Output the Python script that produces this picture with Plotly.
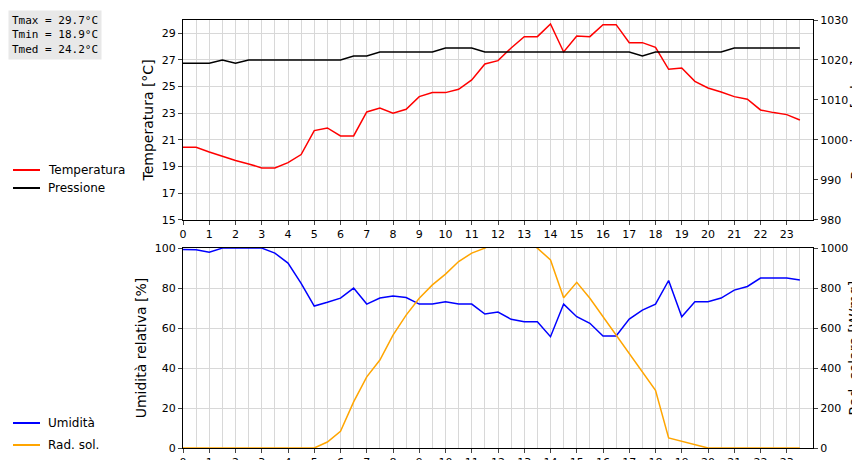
import plotly.graph_objects as go

hours = [i * 0.5 for i in range(48)]
temperatura = [20.45, 20.45, 20.1, 19.75, 19.45, 19.2, 18.9, 18.9, 19.3, 19.9, 21.7, 21.9,
               21.3, 21.3, 23.1, 23.4, 23.0, 23.3, 24.25, 24.55, 24.55, 24.8, 25.5, 26.7,
               26.95, 27.9, 28.75, 28.75, 29.7, 27.6, 28.8, 28.75, 29.65, 29.65, 28.3, 28.3,
               27.95, 26.3, 26.4, 25.4, 24.9, 24.6, 24.25, 24.05, 23.25, 23.05, 22.9, 22.5]
pressione = [1019.2, 1019.2, 1019.2, 1020, 1019.2, 1020, 1020, 1020, 1020, 1020, 1020, 1020,
             1020, 1021, 1021, 1022, 1022, 1022, 1022, 1022, 1023, 1023, 1023, 1022,
             1022, 1022, 1022, 1022, 1022, 1022, 1022, 1022, 1022, 1022, 1022, 1021,
             1022, 1022, 1022, 1022, 1022, 1022, 1023, 1023, 1023, 1023, 1023, 1023]
umidita = [99.3, 99.2, 98, 100, 100, 100, 100, 97.5, 92.5, 82.4, 71, 72.9,
           75, 80, 72, 75, 76, 75.3, 72, 72, 73.2, 72, 72, 67,
           68, 64.4, 63.2, 63.2, 55.7, 72, 65.7, 62.4, 56, 56, 64.5, 69,
           72, 83.8, 65.7, 73.2, 73.2, 75, 79, 80.8, 85, 85, 85, 84.1]
radsol = [0, 0, 0, 0, 0, 0, 0, 0, 0, 0, 0, 30,
          84, 231, 356, 440, 565, 665, 749, 816, 870, 933, 975, 1000,
          1040, 1060, 1040, 1000, 941, 752, 829, 749, 657, 565, 473, 381,
          289, 50, 33, 17, 0, 0, 0, 0, 0, 0, 0, 0]
xticks = list(range(24))
stats = "Tmax = 29.7°C<br>Tmin = 18.9°C<br>Tmed = 24.2°C"

fig = go.Figure()
fig.add_trace(go.Scatter(x=hours, y=temperatura, mode="lines", line=dict(color="#ff0000", width=1.5), xaxis="x", yaxis="y"))
fig.add_trace(go.Scatter(x=hours, y=pressione, mode="lines", line=dict(color="#000000", width=1.5), xaxis="x", yaxis="y2"))
fig.add_trace(go.Scatter(x=hours, y=umidita, mode="lines", line=dict(color="#0000ff", width=1.5), xaxis="x2", yaxis="y3"))
fig.add_trace(go.Scatter(x=hours, y=radsol, mode="lines", line=dict(color="#ffa500", width=1.5), xaxis="x2", yaxis="y4", cliponaxis=True))

font = dict(family="DejaVu Sans", size=12, color="black")
ax = dict(range=[0, 24], tickvals=xticks, ticktext=[str(t) for t in xticks], ticks="outside", ticklen=4,
          showgrid=True, gridcolor="#d8d8d8", showline=True, linecolor="black", mirror=True,
          minor=dict(dtick=0.5, tick0=0, showgrid=True, gridcolor="#d8d8d8"), zeroline=False,
          tickfont=dict(size=11), automargin=False)
yax = dict(showline=True, linecolor="black", mirror=True, ticks="outside", ticklen=4,
           showgrid=True, gridcolor="#d8d8d8", zeroline=False, tickfont=dict(size=11), automargin=False)
fig.update_layout(
    width=860, height=460, margin=dict(l=175, r=55, t=12, b=20),
    plot_bgcolor="white", paper_bgcolor="white", showlegend=False, font=font,
    xaxis=dict(ax, domain=[0, 1], anchor="y"),
    yaxis=dict(yax, domain=[0.533, 1], range=[15, 30], tickvals=list(range(15, 30, 2)),
               title=dict(text="Temperatura [°C]", standoff=4, font=dict(size=14))),
    yaxis2=dict(yax, overlaying="y", side="right", range=[980, 1030], tickvals=list(range(980, 1031, 10)),
                showgrid=False, title=dict(text="Pressione [mbar]", standoff=2, font=dict(size=14)), anchor="x"),
    xaxis2=dict(ax, domain=[0, 1], anchor="y3"),
    yaxis3=dict(yax, domain=[0, 0.467], range=[0, 100], tickvals=list(range(0, 101, 20)), anchor="x2",
                title=dict(text="Umidità relativa [%]", standoff=4, font=dict(size=14))),
    yaxis4=dict(yax, overlaying="y3", side="right", range=[0, 1000], tickvals=list(range(0, 1001, 200)),
                showgrid=False, anchor="x2", title=dict(text="Rad. solare [W/mq]", standoff=2, font=dict(size=14))),
)
fig.add_annotation(xref="paper", yref="paper", x=-175/630, y=1 + 10/428, xanchor="left", yanchor="top",
                   text=stats, showarrow=False, align="left", bgcolor="#e8e8e8",
                   font=dict(family="DejaVu Sans Mono", size=11, color="black"), borderpad=3)
leg = [("Temperatura", "#ff0000", 162), ("Pressione", "#000000", 180),
       ("Umidità", "#0000ff", 415), ("Rad. sol.", "#ffa500", 437)]
for name, col, py in leg:
    yp = (440 - py) / 428
    fig.add_shape(type="line", xref="paper", yref="paper", x0=-170/630, x1=-143/630, y0=yp, y1=yp,
                  line=dict(color=col, width=2))
    fig.add_annotation(xref="paper", yref="paper", x=-137/630, y=yp, xanchor="left", yanchor="middle",
                       text=name, showarrow=False, font=dict(size=12))
fig.write_html("out.html")
